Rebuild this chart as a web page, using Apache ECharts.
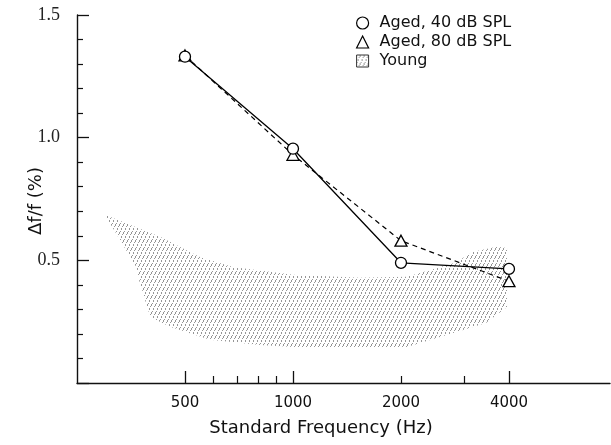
<!DOCTYPE html>
<html><head><meta charset="utf-8">
<script src="https://cdn.jsdelivr.net/npm/echarts@6/dist/echarts.min.js"></script>
<style>html,body{margin:0;padding:0;background:#fff}#c{width:611px;height:445px}</style>
</head><body><div id="c"></div>
<script>
// ---- data ----
const freqs = [500, 1000, 2000, 4000];
const aged40 = [1.33, 0.955, 0.49, 0.465];
const aged80 = [1.335, 0.93, 0.58, 0.415];
// outline of the "Young" shaded region (upper edge left->right, then lower edge right->left)
const youngFreq = [299, 382, 426, 550, 680, 1000, 1537, 2078, 2830, 3180, 3700, 3950,
                   3950, 3450, 2570, 2078, 1537, 1115, 809, 587, 454, 400, 370, 367];
const youngDf   = [0.686, 0.624, 0.596, 0.514, 0.473, 0.441, 0.429, 0.433, 0.49, 0.535, 0.555, 0.55,
                   0.31, 0.245, 0.188, 0.147, 0.147, 0.143, 0.155, 0.176, 0.229, 0.269, 0.433, 0.469];
const xLabelValues = [500, 1000, 2000, 4000];
const xMajorTicks = [500, 1000, 4000];
const xMinorTicks = [600, 700, 800, 900, 2000, 3000];
const seriesNames = ['Aged, 40 dB SPL', 'Aged, 80 dB SPL', 'Young'];

// hatch pattern (steep dotted diagonals)
const pc = document.createElement('canvas');
pc.width = 4; pc.height = 8;
const pctx = pc.getContext('2d');
pctx.fillStyle = 'rgba(80,80,80,0.6)';
for (let y = 0; y < 8; y++) {
  if (y === 3 || y === 6) continue;
  pctx.fillRect(Math.floor((7 - y) / 2), y, 1, 1);
}
const hatch = { image: pc, repeat: 'repeat' };

const FONT = 'DejaVu Sans';
const X_MIN = 250, X_MAX = 7650;

const chart = echarts.init(document.getElementById('c'), null, { renderer: 'canvas' });
const axisBase = {
  type: 'log', logBase: 2, min: X_MIN, max: X_MAX, position: 'bottom',
  splitLine: { show: false }, minorTick: { show: false }, minorSplitLine: { show: false }
};
chart.setOption({
  animation: false,
  backgroundColor: '#fff',
  grid: { left: 77, right: 1, top: 15, bottom: 62, containLabel: false },
  xAxis: [
    Object.assign({}, axisBase, {
      axisLine: { show: true, lineStyle: { color: '#111', width: 1.4 } },
      axisTick: { show: true, inside: true, length: 12, customValues: xMajorTicks,
                  lineStyle: { color: '#111', width: 1.3 } },
      axisLabel: { show: true, customValues: xLabelValues, margin: 13,
                   fontFamily: FONT, fontSize: 15, color: '#111',
                   formatter: v => String(Math.round(v)) }
    }),
    Object.assign({}, axisBase, {
      axisLine: { show: false },
      axisTick: { show: true, inside: true, length: 7, customValues: xMinorTicks,
                  lineStyle: { color: '#111', width: 1.2 } },
      axisLabel: { show: false }
    })
  ],
  yAxis: {
    type: 'value', min: 0, max: 1.5, interval: 0.5,
    axisLine: { show: true, lineStyle: { color: '#111', width: 1.4 } },
    axisTick: { show: true, inside: true, length: 12, lineStyle: { color: '#111', width: 1.3 } },
    minorTick: { show: true, splitNumber: 5, length: 6, lineStyle: { color: '#111', width: 1.2 } },
    splitLine: { show: false }, minorSplitLine: { show: false },
    axisLabel: { margin: 17, fontFamily: 'Liberation Serif', fontSize: 18, color: '#222',
                 formatter: v => v === 0 ? '' : v.toFixed(1) }
  },
  legend: {
    orient: 'vertical', left: 351, top: 10, itemWidth: 12, itemHeight: 12, itemGap: 3,
    textStyle: { fontFamily: FONT, fontSize: 16, color: '#111', lineHeight: 16, padding: [0, 0, 0, 6] },
    lineStyle: { opacity: 0 },
    data: [
      { name: seriesNames[0], icon: 'circle', itemStyle: { color: '#fff', borderColor: '#000', borderWidth: 1.2 } },
      { name: seriesNames[1], icon: 'triangle', itemStyle: { color: '#fff', borderColor: '#000', borderWidth: 1.2 } },
      { name: seriesNames[2], icon: 'rect', itemStyle: { color: hatch, borderColor: '#333', borderWidth: 1 } }
    ]
  },
  graphic: [
    { type: 'text', x: 321, y: 428, style: { text: 'Standard Frequency (Hz)', align: 'center', verticalAlign: 'middle',
      font: '18px "DejaVu Sans"', fill: '#111' } },
    { type: 'text', x: 36, y: 201, rotation: Math.PI / 2, style: { text: 'Δf/f (%)', align: 'center', verticalAlign: 'middle',
      font: '18px "DejaVu Sans"', fill: '#111' } }
  ],
  series: [
    {
      name: seriesNames[2], type: 'custom', xAxisIndex: 0, z: 1,
      itemStyle: { color: '#888' },
      data: [[youngFreq[0], youngDf[0]]],
      renderItem: function (params, api) {
        const pts = youngFreq.map((f, i) => api.coord([f, youngDf[i]]));
        return { type: 'polygon', shape: { points: pts }, style: { fill: hatch, stroke: null } };
      }
    },
    {
      name: seriesNames[1], type: 'line', xAxisIndex: 0, z: 3,
      data: freqs.map((f, i) => [f, aged80[i]]),
      symbol: 'triangle', symbolSize: [12, 11],
      itemStyle: { color: '#fff', borderColor: '#000', borderWidth: 1.3 },
      lineStyle: { color: '#000', width: 1.2, type: [5, 4] }
    },
    {
      name: seriesNames[0], type: 'line', xAxisIndex: 0, z: 4,
      data: freqs.map((f, i) => [f, aged40[i]]),
      symbol: 'circle', symbolSize: 11,
      itemStyle: { color: '#fff', borderColor: '#000', borderWidth: 1.3 },
      lineStyle: { color: '#000', width: 1.3 }
    }
  ]
});
</script></body></html>
